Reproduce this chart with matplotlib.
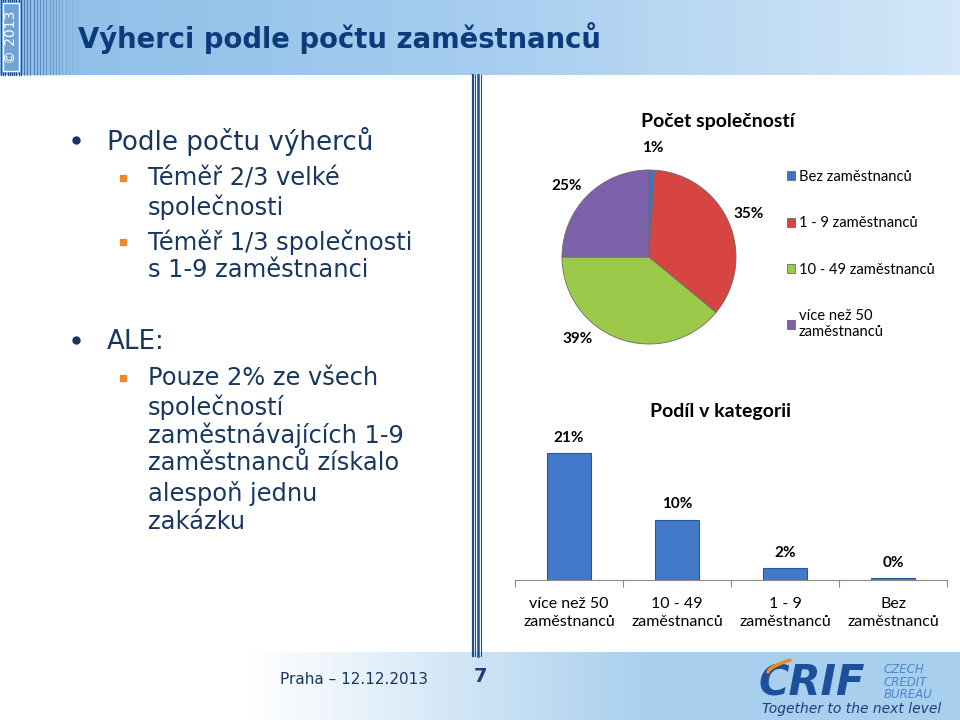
import matplotlib.pyplot as plt
import numpy as np
from matplotlib.patches import Rectangle
from matplotlib.colors import LinearSegmentedColormap

# --- data ---
pie_labels = ['Bez zaměstnanců', '1 - 9 zaměstnanců', '10 - 49 zaměstnanců',
              'více než 50\nzaměstnanců']
pie_values = [1, 35, 39, 25]
pie_colors = ['#3f74c0', '#d64541', '#9dc94b', '#7d60aa']

bar_labels = ['více než 50\nzaměstnanců', '10 - 49\nzaměstnanců',
              '1 - 9\nzaměstnanců', 'Bez\nzaměstnanců']
bar_values = [21, 10, 2, 0.3]

title = 'Výherci podle počtu zaměstnanců'
bullets = [
    (0, 'Podle počtu výherců', 142),
    (1, 'Téměř 2/3 velké', 178),
    (2, 'společnosti', 207),
    (1, 'Téměř 1/3 společnosti', 242),
    (2, 's 1-9 zaměstnanci', 270),
    (0, 'ALE:', 342),
    (1, 'Pouze 2% ze všech', 378),
    (2, 'společností', 407),
    (2, 'zaměstnávajících 1-9', 435),
    (2, 'zaměstnanců získalo', 463),
    (2, 'alespoň jednu', 493),
    (2, 'zakázku', 522),
]

W, H = 960, 720
NAVY = '#17375e'
CHART_FONT = ['Lato', 'DejaVu Sans']

fig = plt.figure(figsize=(9.6, 7.2), dpi=100)
bg = fig.add_axes([0, 0, 1, 1])
bg.axis('off')

# header band
grad = np.linspace(0, 1, 256).reshape(1, -1)
head_cmap = LinearSegmentedColormap.from_list('head', ['#8dbde8', '#a6cdef', '#d3e7f8'])
bg.imshow(grad, extent=(0, W, 75, 0), cmap=head_cmap, aspect='auto', zorder=0)

# stripes on the left of the header
for x in np.arange(1, 23, 2.2):
    bg.plot([x, x], [0, 75], color='#1f4f8f', lw=0.9, zorder=1)
for i, x in enumerate(np.arange(24, 80, 3.2)):
    bg.plot([x, x], [0, 75], color='#2a5c9c', lw=0.8, alpha=max(0.05, 0.7 - i * 0.04), zorder=1)
bg.add_patch(Rectangle((3, 3), 16, 68, facecolor='#6fa3d8', edgecolor='white', lw=1, zorder=2))
bg.text(11, 37, '© 2013', rotation=90, color='white', fontsize=10, ha='center', va='center', zorder=3)

bg.text(78, 38, title, fontsize=19.8, fontweight='bold', color='#0c3b7c', va='center', zorder=3)

# vertical separator
for x, lw in [(472.5, 1.6), (475.2, 0.8), (477.8, 1.8), (480.5, 0.8)]:
    bg.plot([x, x], [75, 656], color='#1f4f8f', lw=lw, zorder=1)

# footer band
xs = np.linspace(0, W, 400)
fgrad = np.clip((xs - 250) / 400, 0, 1).reshape(1, -1)
foot_cmap = LinearSegmentedColormap.from_list('foot', ['#ffffff', '#a9cfee'])
bg.imshow(fgrad, extent=(0, W, H, 652), cmap=foot_cmap, aspect='auto', zorder=0)

# left bullet text
for level, txt, y in bullets:
    if level == 0:
        bg.plot(76, y - 2, 'o', color=NAVY, ms=5, zorder=3)
        bg.text(107, y, txt, fontsize=18.8, color=NAVY, va='center', zorder=3)
    else:
        if level == 1:
            bg.plot(123, y, 's', color='#ec8a2e', ms=4, zorder=3)
        bg.text(148, y, txt, fontsize=17.4, color=NAVY, va='center', zorder=3)

# footer texts
bg.text(280, 680, 'Praha – 12.12.2013', fontsize=11, color=NAVY, va='center', zorder=3)
bg.text(474, 677, '7', fontsize=14, fontweight='bold', color='#1f3f73', va='center', zorder=3)
bg.text(758, 683, 'CRIF', fontsize=30, fontweight='bold', style='italic', color='#1c4f9c',
        va='center', zorder=3)
bg.text(884, 682, 'CZECH\nCREDIT\nBUREAU', fontsize=8.5, style='italic', color='#4d86cc',
        va='center', linespacing=0.95, zorder=3)
bg.text(762, 709, 'Together to the next level', fontsize=10, style='italic', color='#1a3f7f',
        va='center', zorder=3)
sw = np.linspace(0, 1, 20)
bg.plot(768 + 22 * sw, 672 - 12 * sw ** 0.6, color='#f08a1c', lw=2.5, solid_capstyle='round', zorder=3)

bg.set_xlim(0, W)
bg.set_ylim(H, 0)

# --- pie chart ---
cx, cy, r = 649, 257, 87
pax = fig.add_axes([(cx - r) / W, 1 - (cy + r) / H, 2 * r / W, 2 * r / H])
wedges, _ = pax.pie(pie_values, colors=pie_colors, startangle=90, counterclock=False,
                    wedgeprops=dict(edgecolor='#6a6a6a', linewidth=0.6))
pax.set_xlim(-1, 1)
pax.set_ylim(-1, 1)
nudge = [0, 0, -21, 4]
for w, v, d in zip(wedges, pie_values, nudge):
    a = np.deg2rad((w.theta1 + w.theta2) / 2 + d)
    pax.text(1.25 * np.cos(a), 1.25 * np.sin(a), f'{v}%', ha='center', va='center',
             fontsize=11, fontweight='bold', family=CHART_FONT, clip_on=False)
fig.text(718 / W, 1 - 122 / H, 'Počet společností', ha='center', va='center',
         fontsize=14, fontweight='bold', family=CHART_FONT)
fig.legend(wedges, pie_labels, loc='upper left', bbox_to_anchor=(787 / W, 1 - 170 / H),
           frameon=False, prop={'family': CHART_FONT, 'size': 10.6}, handlelength=0.55,
           handleheight=0.55, handletextpad=0.25, labelspacing=2.2, borderpad=0, borderaxespad=0)

# --- bar chart ---
bax = fig.add_axes([515 / W, 1 - 580 / H, 432 / W, 151 / H])
bars = bax.bar(range(len(bar_values)), bar_values, width=0.4, color='#4279c9',
               edgecolor='#2b5597', linewidth=0.8)
bax.set_xlim(-0.5, len(bar_values) - 0.5)
bax.set_ylim(0, 25)
for s in ['top', 'left', 'right']:
    bax.spines[s].set_visible(False)
bax.spines['bottom'].set_color('#8c8c8c')
bax.set_yticks([])
bax.set_xticks(np.arange(-0.5, len(bar_values), 1))
bax.set_xticklabels([])
bax.tick_params(axis='x', which='major', length=5, color='#8c8c8c')
bax.set_xticks(range(len(bar_values)), minor=True)
bax.set_xticklabels(bar_labels, minor=True, fontsize=11.5, family=CHART_FONT, linespacing=1.35)
bax.tick_params(axis='x', which='minor', length=0, pad=12)
for b, v in zip(bars, bar_values):
    bax.annotate(f'{v:.0f}%', (b.get_x() + b.get_width() / 2, b.get_height()),
                 xytext=(0, 11), textcoords='offset points', ha='center', va='center',
                 fontsize=11, fontweight='bold', family=CHART_FONT)
fig.text(720 / W, 1 - 412 / H, 'Podíl v kategorii', ha='center', va='center',
         fontsize=14, fontweight='bold', family=CHART_FONT)

fig.savefig('out.png', dpi=100)
